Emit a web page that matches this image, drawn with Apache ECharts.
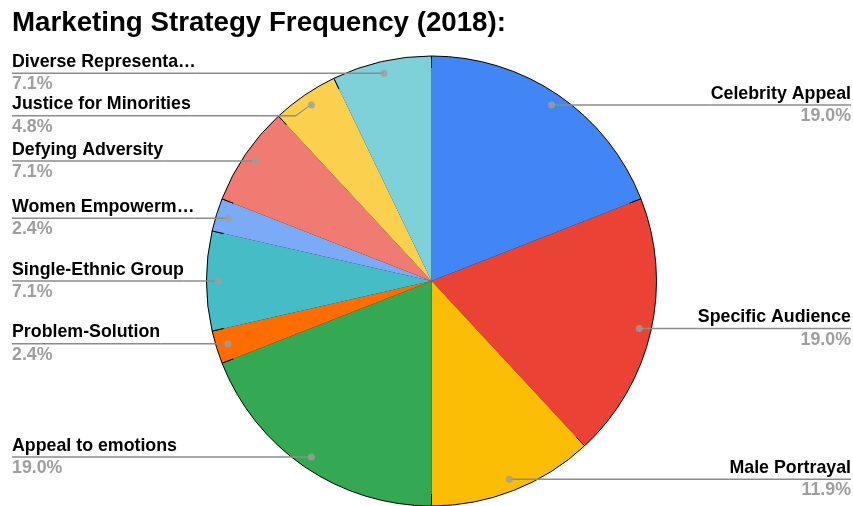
<!DOCTYPE html>
<html>
<head>
<meta charset="utf-8">
<title>Marketing Strategy Frequency (2018)</title>
<script src="https://cdn.jsdelivr.net/npm/echarts@6/dist/echarts.min.js"></script>
<style>
  html, body { margin: 0; padding: 0; background: #fff; }
  #chart { width: 853px; height: 506px; }
</style>
</head>
<body>
<div id="chart"></div>
<script>
// Strategy names, in clockwise order from 12 o'clock
const categories = [
  'Celebrity Appeal',
  'Specific Audience',
  'Male Portrayal',
  'Appeal to emotions',
  'Problem-Solution',
  'Single-Ethnic Group',
  'Women Empowerment',
  'Defying Adversity',
  'Justice for Minorities',
  'Diverse Representation'
];
// Number of ads using each strategy
const counts = [8, 8, 5, 8, 1, 3, 1, 3, 2, 3];
const colors = [
  '#4285F4', '#EA4335', '#FBBC04', '#34A853', '#FF6D01',
  '#46BDC6', '#7BAAF7', '#F07B72', '#FCD04F', '#7ED1D8'
];

const FONT = "'Liberation Sans', Arial, sans-serif";
const LABEL_SIZE = 17.8;
const LABEL_FONT = 'bold ' + LABEL_SIZE + 'px ' + FONT;
const CX = 431.5, CY = 281, R = 225;
const DOT_R = 0.947;           // callout dot position as a fraction of the radius
const BOX_LEFT = 12, BOX_RIGHT = 2;

const total = counts.reduce((a, b) => a + b, 0);
const pct = v => (v / total * 100).toFixed(1) + '%';

const pieData = categories.map((name, i) => ({
  name, value: counts[i], itemStyle: { color: colors[i] }
}));

// callout dots sit at the middle angle of each slice
let acc = 0;
const dots = counts.map(v => { const a = acc + v / 2; acc += v; return [DOT_R, a]; });

const chart = echarts.init(document.getElementById('chart'), null, { renderer: 'canvas' });
chart.setOption({
  backgroundColor: '#fff',
  animation: false,
  title: {
    text: 'Marketing Strategy Frequency (2018):',
    left: 12, top: 9, padding: 0,
    textStyle: { fontFamily: FONT, fontSize: 27.7, fontWeight: 'bold', color: '#000' }
  },
  polar: { center: [CX, CY], radius: R },
  angleAxis: { type: 'value', min: 0, max: total, startAngle: 90, clockwise: true, show: false },
  radiusAxis: { type: 'value', min: 0, max: 1, show: false },
  series: [
    {
      type: 'pie',
      left: BOX_LEFT, right: BOX_RIGHT, top: 0, bottom: 0,
      center: [CX - BOX_LEFT, CY],
      radius: R,
      startAngle: 90,
      clockwise: true,
      silent: true,
      z: 1,
      itemStyle: { borderColor: '#000', borderWidth: 1 },
      label: { show: false },
      labelLine: { show: false },
      emphasis: { disabled: true },
      data: pieData
    },
    {
      // label carrier: invisible ring ending at the callout dots
      type: 'pie',
      left: BOX_LEFT, right: BOX_RIGHT, top: 0, bottom: 0,
      center: [CX - BOX_LEFT, CY],
      radius: R * DOT_R,
      startAngle: 90,
      clockwise: true,
      silent: true,
      z: 2,
      itemStyle: { color: 'rgba(0,0,0,0)', borderWidth: 0 },
      emphasis: { disabled: true },
      avoidLabelOverlap: true,
      label: {
        show: true,
        position: 'outside',
        alignTo: 'edge',
        edgeDistance: 0,
        distanceToLabelLine: 0,
        formatter: p => {
          const shown = echarts.format.truncateText(p.name, 186, LABEL_FONT, '…');
          return '{n|' + shown + '}\n{l| }\n{p|' + pct(p.value) + '}';
        },
        rich: {
          n: { fontFamily: FONT, fontSize: LABEL_SIZE, fontWeight: 'bold', color: '#000', lineHeight: 21 },
          l: { width: '100%', height: 1.5, lineHeight: 1.5, fontSize: 1, backgroundColor: '#8c8c8c' },
          p: { fontFamily: FONT, fontSize: LABEL_SIZE, fontWeight: 'bold', color: '#9e9e9e', lineHeight: 21 }
        }
      },
      labelLine: {
        show: true,
        length: 0,
        length2: 10,
        lineStyle: { color: '#8c8c8c', width: 1.5 }
      },
      data: pieData
    },
    {
      type: 'scatter',
      coordinateSystem: 'polar',
      silent: true,
      z: 3,
      symbol: 'circle',
      symbolSize: 7,
      itemStyle: { color: '#9e9e9e' },
      data: dots
    }
  ]
});
</script>
</body>
</html>
